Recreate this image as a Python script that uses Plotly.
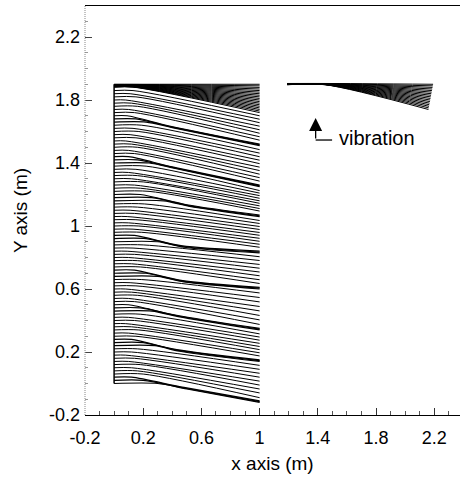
import plotly.graph_objects as go

# ---------------- data ----------------
tick_vals = [-0.2, 0.2, 0.6, 1.0, 1.4, 1.8, 2.2]
tick_text = ["-0.2", "0.2", "0.6", "1", "1.4", "1.8", "2.2"]

# ordinary flow lines of the left bank: start height at x=0, x where it starts to fall, height at x=1
left_y_start = [0.06, 0.08, 0.10, 0.12, 0.14, 0.16, 0.18, 0.20, 0.22,
                0.30, 0.32, 0.34, 0.36, 0.38, 0.40, 0.42, 0.44,
                0.52, 0.54, 0.56, 0.58, 0.60, 0.62, 0.64, 0.66,
                0.74, 0.76, 0.78, 0.80, 0.82, 0.84, 0.86, 0.88,
                0.96, 0.98, 1.00, 1.02, 1.04, 1.06, 1.08, 1.10, 1.12, 1.14,
                1.22, 1.24, 1.26, 1.28, 1.30, 1.32, 1.34, 1.36, 1.38,
                1.46, 1.48, 1.50, 1.52, 1.54, 1.56, 1.58, 1.60, 1.62, 1.64,
                1.72, 1.74, 1.76, 1.78, 1.80, 1.82, 1.84, 1.86]
left_x_bend = [0.20, 0.16, 0.12, 0.18, 0.10, 0.14, 0.08, 0.12, 0.16,
               0.15, 0.10, 0.17, 0.12, 0.08, 0.14, 0.10, 0.18,
               0.14, 0.10, 0.16, 0.12, 0.08, 0.15, 0.11, 0.19,
               0.18, 0.12, 0.16, 0.10, 0.14, 0.09, 0.13, 0.20,
               0.19, 0.13, 0.17, 0.10, 0.15, 0.09, 0.14, 0.11, 0.16, 0.21,
               0.24, 0.18, 0.14, 0.20, 0.12, 0.16, 0.10, 0.15, 0.22,
               0.14, 0.10, 0.16, 0.12, 0.08, 0.15, 0.11, 0.17, 0.13, 0.19,
               0.14, 0.10, 0.16, 0.12, 0.08, 0.15, 0.11, 0.13]
left_y_end = [-0.090, -0.060, -0.035, -0.010, 0.015, 0.040, 0.065, 0.090, 0.115,
              0.175, 0.195, 0.215, 0.235, 0.255, 0.275, 0.295, 0.315,
              0.375, 0.404, 0.432, 0.461, 0.489, 0.518, 0.546, 0.575,
              0.635, 0.659, 0.684, 0.708, 0.732, 0.756, 0.781, 0.805,
              0.865, 0.884, 0.903, 0.922, 0.941, 0.959, 0.978, 0.997, 1.016, 1.035,
              1.095, 1.111, 1.128, 1.144, 1.160, 1.176, 1.193, 1.209, 1.225,
              1.285, 1.307, 1.329, 1.352, 1.374, 1.396, 1.418, 1.440, 1.463, 1.485,
              1.545, 1.567, 1.589, 1.611, 1.634, 1.656, 1.678, 1.700]

# lines that gather into the dark diagonal bands (three per band)
band_y_start = [0.00, 0.02, 0.04, 0.24, 0.26, 0.28, 0.46, 0.48, 0.50, 0.68, 0.70, 0.72,
                0.90, 0.92, 0.94, 1.16, 1.18, 1.20, 1.40, 1.42, 1.44, 1.66, 1.68, 1.70]
band_x_bend = [0.30, 0.20, 0.12, 0.28, 0.20, 0.12, 0.26, 0.18, 0.10, 0.30, 0.22, 0.14,
               0.30, 0.22, 0.14, 0.34, 0.26, 0.18, 0.24, 0.16, 0.10, 0.22, 0.15, 0.09]
band_x_meet = [0.50, 0.49, 0.48, 0.45, 0.44, 0.43, 0.44, 0.43, 0.42, 0.48, 0.47, 0.46,
               0.48, 0.47, 0.46, 0.52, 0.51, 0.50, 0.42, 0.41, 0.40, 0.40, 0.39, 0.38]
band_y_meet = [-0.035, -0.030, -0.025, 0.205, 0.210, 0.215, 0.425, 0.430, 0.435, 0.645, 0.650, 0.655,
               0.865, 0.870, 0.875, 1.125, 1.130, 1.135, 1.365, 1.370, 1.375, 1.625, 1.630, 1.635]
band_y_end = [-0.120, -0.115, -0.110, 0.140, 0.145, 0.150, 0.340, 0.345, 0.350, 0.600, 0.605, 0.610,
              0.830, 0.835, 0.840, 1.060, 1.065, 1.070, 1.250, 1.255, 1.260, 1.510, 1.515, 1.520]

# fan of lines along the top of the left bank
top_y_start = [1.882, 1.883, 1.884, 1.885, 1.886, 1.887, 1.888, 1.889, 1.890, 1.891,
               1.892, 1.893, 1.894, 1.895, 1.896, 1.897, 1.898, 1.899, 1.900]
top_y_end = [1.72, 1.73, 1.74, 1.75, 1.76, 1.77, 1.78, 1.79, 1.80, 1.81,
             1.82, 1.83, 1.84, 1.85, 1.86, 1.87, 1.88, 1.89, 1.90]

# fan of lines in the right (vibration) region
right_y_start = [1.897, 1.8975, 1.898, 1.8985, 1.899, 1.8995, 1.900, 1.9005, 1.901,
                 1.9015, 1.902, 1.9025, 1.903, 1.9035, 1.904, 1.9045, 1.905]
right_x_end = [2.160, 2.162, 2.164, 2.166, 2.168, 2.170, 2.172, 2.174, 2.176,
               2.178, 2.180, 2.182, 2.184, 2.186, 2.188, 2.190, 2.192]
right_y_end = [1.74, 1.75, 1.76, 1.77, 1.78, 1.79, 1.80, 1.81, 1.82,
               1.83, 1.84, 1.85, 1.86, 1.87, 1.88, 1.89, 1.90]

# ---------------- build the figure ----------------
LEFT_X0, LEFT_X1 = 0.0, 1.0
TOP_BEND = 0.13
RIGHT_X0, RIGHT_BEND = 1.19, 1.45

lx, ly = [], []
for y0, xb, y1 in zip(left_y_start, left_x_bend, left_y_end):
    lx += [LEFT_X0, xb, LEFT_X1, None]
    ly += [y0, y0, y1, None]
for y0, y1 in zip(top_y_start, top_y_end):
    lx += [LEFT_X0, TOP_BEND, LEFT_X1, None]
    ly += [y0, y0, y1, None]

bx, by = [], []
for y0, xb, xm, ym, y1 in zip(band_y_start, band_x_bend, band_x_meet, band_y_meet, band_y_end):
    bx += [LEFT_X0, xb, xm, LEFT_X1, None]
    by += [y0, y0, ym, y1, None]

rx, ry = [], []
for y0, xe, y1 in zip(right_y_start, right_x_end, right_y_end):
    rx += [RIGHT_X0, RIGHT_BEND, xe, None]
    ry += [y0, y0, y1, None]

fig = go.Figure()
line_style = dict(color="black", width=1, shape="spline", smoothing=0.8)
fig.add_trace(go.Scatter(x=lx, y=ly, mode="lines", line=line_style,
                         hoverinfo="skip", showlegend=False))
fig.add_trace(go.Scatter(x=bx, y=by, mode="lines",
                         line=dict(color="black", width=1.2, shape="spline", smoothing=0.8),
                         hoverinfo="skip", showlegend=False))
fig.add_trace(go.Scatter(x=rx, y=ry, mode="lines", line=line_style,
                         hoverinfo="skip", showlegend=False))
# left vertical edge of the bank
fig.add_trace(go.Scatter(x=[LEFT_X0, LEFT_X0], y=[band_y_start[0], top_y_start[-1]], mode="lines",
                         line=dict(color="black", width=1.5), hoverinfo="skip", showlegend=False))

FONT = "Liberation Sans, Arial, Helvetica, sans-serif"

# vibration arrow
arrow_x, arrow_tip_y, arrow_base_y, elbow_x = 1.385, 1.686, 1.546, 1.498
fig.add_annotation(x=arrow_x, y=arrow_tip_y, ax=arrow_x, ay=arrow_base_y, axref="x", ayref="y",
                   xref="x", yref="y", showarrow=True, arrowhead=2, arrowsize=2.0,
                   arrowwidth=1.3, arrowcolor="black", text="")
fig.add_shape(type="line", x0=arrow_x, x1=elbow_x, y0=arrow_base_y, y1=arrow_base_y,
              xref="x", yref="y", line=dict(color="black", width=1.3))
fig.add_annotation(x=1.53, y=1.556, xref="x", yref="y", text="vibration", showarrow=False,
                   xanchor="left", yanchor="middle", font=dict(family=FONT, size=20, color="black"))

# dotted left axis line
fig.add_shape(type="line", xref="paper", yref="paper", x0=0, x1=0, y0=0, y1=1,
              line=dict(color="#888888", width=1, dash="1px,1px"))

fig.update_layout(
    width=460, height=489,
    margin=dict(l=85, r=0, t=6, b=74),
    plot_bgcolor="white", paper_bgcolor="white",
    font=dict(family=FONT, size=18, color="black"),
    xaxis=dict(range=[-0.2, 2.377], tickmode="array", tickvals=tick_vals, ticktext=tick_text,
               showgrid=False, zeroline=False, showline=True, linecolor="black", linewidth=1,
               mirror=True, ticks="inside", ticklen=7, tickcolor="#333333",
               minor=dict(tickmode="linear", tick0=-0.2, dtick=0.1, ticks="inside", ticklen=4,
                          tickcolor="#555555", showgrid=False),
               tickfont=dict(size=18), ticklabelstandoff=6,
               title=dict(text="x axis (m)", font=dict(size=19), standoff=10)),
    yaxis=dict(range=[-0.2, 2.397], tickmode="array", tickvals=tick_vals, ticktext=tick_text,
               showgrid=False, zeroline=False, showline=False,
               ticks="inside", ticklen=7, tickcolor="#444444",
               minor=dict(tickmode="linear", tick0=-0.2, dtick=0.1, ticks="inside", ticklen=3,
                          tickcolor="#999999", showgrid=False),
               tickfont=dict(size=18), ticklabelstandoff=4,
               title=dict(text="Y axis (m)", font=dict(size=19), standoff=16)),
)

fig.write_html("out.html")
